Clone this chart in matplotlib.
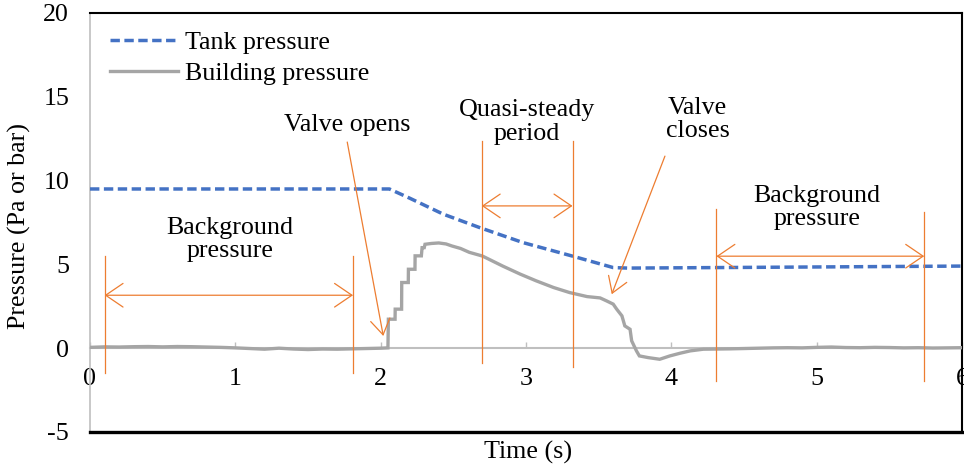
import matplotlib
matplotlib.use("Agg")
import matplotlib.pyplot as plt
from matplotlib.patches import FancyArrowPatch, ArrowStyle

plt.rcParams['font.family'] = ['Liberation Serif', 'DejaVu Serif']
plt.rcParams['axes.unicode_minus'] = False

# ---------------- data ----------------
tank_t = [0.0, 2.06, 2.2, 2.43, 2.68, 2.98, 3.33, 3.6, 3.7, 4.3, 6.0]
tank_p = [9.5, 9.5, 8.95, 8.0, 7.2, 6.3, 5.47, 4.81, 4.78, 4.81, 4.9]

bg1_t = [0.0, 0.1, 0.2, 0.3, 0.4, 0.5, 0.6, 0.7, 0.8, 0.9, 1.0, 1.1, 1.2, 1.3,
         1.4, 1.5, 1.6, 1.7, 1.8, 1.9, 2.0]
bg1_p = [0.05, 0.08, 0.07, 0.09, 0.1, 0.08, 0.1, 0.09, 0.07, 0.05, 0.02, -0.02,
         -0.06, 0.0, -0.05, -0.08, -0.05, -0.06, -0.04, -0.02, 0.0]
event_t = [2.05, 2.053, 2.099, 2.100, 2.144, 2.145, 2.19, 2.191, 2.236, 2.237,
           2.28, 2.285, 2.30, 2.305, 2.35, 2.40, 2.45, 2.49, 2.55, 2.61, 2.70,
           2.77, 2.84, 2.96, 3.07, 3.19, 3.30, 3.42, 3.51, 3.555, 3.60, 3.624,
           3.66, 3.68, 3.716, 3.727, 3.76, 3.78, 3.84, 3.92, 3.99, 4.06, 4.13,
           4.22, 4.31]
event_p = [0.02, 1.73, 1.73, 2.33, 2.33, 3.92, 3.92, 4.71, 4.71, 5.51,
           5.51, 6.0, 6.0, 6.2, 6.25, 6.28, 6.22, 6.1, 5.95, 5.72, 5.5,
           5.2, 4.9, 4.42, 4.02, 3.62, 3.32, 3.08, 3.0, 2.82, 2.63, 2.33,
           1.93, 1.33, 1.13, 0.44, -0.16, -0.46, -0.56, -0.66, -0.46, -0.3, -0.16,
           -0.06, -0.05]
bg2_t = [4.4, 4.5, 4.6, 4.7, 4.8, 4.9, 5.0, 5.1, 5.2, 5.3, 5.4, 5.5, 5.6, 5.7,
         5.8, 5.9, 6.0]
bg2_p = [-0.04, -0.02, 0.0, 0.02, 0.03, 0.02, 0.05, 0.07, 0.04, 0.03, 0.05,
         0.04, 0.02, 0.03, 0.01, 0.02, 0.03]
build_t = bg1_t + event_t + bg2_t
build_p = bg1_p + event_p + bg2_p

series_labels = ["Tank pressure", "Building pressure"]
x_ticks = [0, 1, 2, 3, 4, 5, 6]
y_ticks = [-5, 0, 5, 10, 15, 20]

# annotation geometry (data coordinates)
bg_left = dict(x0=0.10, x1=1.81, ytop=5.5, ybot=-1.45, yarrow=3.16)
quasi = dict(x0=2.695, x1=3.32, ytop=12.35, ybot=(-0.9, -1.1), yarrow=8.49)
bg_right = dict(x0=4.31, x1=5.74, ytop=(8.3, 8.1), ybot=-1.95, yarrow=5.49)
valve_open_arrow = ((1.77, 12.3), (2.018, 0.73))
valve_close_arrow = ((3.956, 11.46), (3.59, 3.22))

texts = [
    ("Background\npressure", 0.963, 6.5),
    ("Valve opens", 1.77, 13.3),
    ("Quasi-steady\nperiod", 3.007, 13.5),
    ("Valve\ncloses", 4.18, 13.65),
    ("Background\npressure", 5.0, 8.4),
]

# ---------------- style ----------------
W, H = 964, 466
FS = 18.7
BLUE = '#4472C4'
GRAY = '#A5A5A5'
ORANGE = '#ED7D31'
AXGRAY = '#BFBFBF'

fig = plt.figure(figsize=(W / 100, H / 100), dpi=100)
ax = fig.add_axes([90 / W, 34 / H, 872 / W, 419 / H])
ax.set_xlim(0, 6)
ax.set_ylim(-5, 20)

ax.plot(tank_t, tank_p, color=BLUE, lw=2.5, dashes=(2.7, 1.3),
        label=series_labels[0], zorder=3)
ax.plot(build_t, build_p, color=GRAY, lw=2.4, label=series_labels[1],
        zorder=3, solid_joinstyle='miter')

# spines
ax.spines['left'].set_color(AXGRAY)
ax.spines['left'].set_linewidth(1.2)
ax.spines['top'].set_color('black')
ax.spines['top'].set_linewidth(1.5)
ax.spines['right'].set_color('black')
ax.spines['right'].set_linewidth(1.5)
ax.spines['bottom'].set_position(('data', 0))
ax.spines['bottom'].set_color(AXGRAY)
ax.spines['bottom'].set_linewidth(1.5)
ax.spines['bottom'].set_zorder(1)
ax.plot([0, 1], [0, 0], transform=ax.transAxes, color='black', lw=2.4,
        clip_on=False, zorder=5)

ax.set_xticks(x_ticks)
ax.set_xticklabels([str(v) for v in x_ticks])
ax.set_yticks(y_ticks)
ax.set_yticklabels([str(v) for v in y_ticks])
ax.tick_params(axis='x', direction='in', length=4, width=1, color=AXGRAY,
               pad=14.5, labelsize=FS, labelcolor='black')
ax.tick_params(axis='y', length=0, pad=15, labelsize=FS, labelcolor='black')

fig.text(19 / W, 1 - 226 / H, "Pressure (Pa or bar)", rotation=90,
         ha='center', va='center', fontsize=FS)
fig.text(528 / W, 1 - 452 / H, "Time (s)", ha='center', va='center',
         fontsize=FS)

leg = ax.legend(loc='upper left', bbox_to_anchor=(20 / 872, 1 - 18 / 419),
                frameon=False, fontsize=FS, borderpad=0, borderaxespad=0,
                handlelength=2.6, handletextpad=0.3, labelspacing=0.3)

# ---------------- annotations ----------------
olw = 0.9


def vline(x, y0, y1):
    ax.plot([x, x], [y0, y1], color=ORANGE, lw=olw, zorder=4, clip_on=False)


def darrow(x0, x1, y):
    p = FancyArrowPatch((x0, y), (x1, y),
                        arrowstyle=ArrowStyle('<->', head_length=12.5, head_width=8.5),
                        mutation_scale=1, color=ORANGE, lw=olw,
                        shrinkA=0, shrinkB=0, zorder=4)
    ax.add_patch(p)


def sarrow(start, end):
    p = FancyArrowPatch(start, end,
                        arrowstyle=ArrowStyle('->', head_length=11, head_width=7),
                        mutation_scale=1, color=ORANGE, lw=olw,
                        shrinkA=0, shrinkB=0, zorder=4)
    ax.add_patch(p)


vline(bg_left['x0'], bg_left['ybot'], bg_left['ytop'])
vline(bg_left['x1'], bg_left['ybot'], bg_left['ytop'])
darrow(bg_left['x0'], bg_left['x1'], bg_left['yarrow'])

vline(quasi['x0'], quasi['ybot'][0], quasi['ytop'])
vline(quasi['x1'], quasi['ybot'][1], quasi['ytop'])
darrow(quasi['x0'], quasi['x1'], quasi['yarrow'])

vline(bg_right['x0'], bg_right['ybot'], bg_right['ytop'][0])
vline(bg_right['x1'], bg_right['ybot'], bg_right['ytop'][1])
darrow(bg_right['x0'], bg_right['x1'], bg_right['yarrow'])

sarrow(*valve_open_arrow)
sarrow(*valve_close_arrow)

for s, x, y in texts:
    ax.text(x, y, s, ha='center', va='center', fontsize=FS, linespacing=1.08,
            zorder=6)

fig.savefig("out.png", dpi=100)
